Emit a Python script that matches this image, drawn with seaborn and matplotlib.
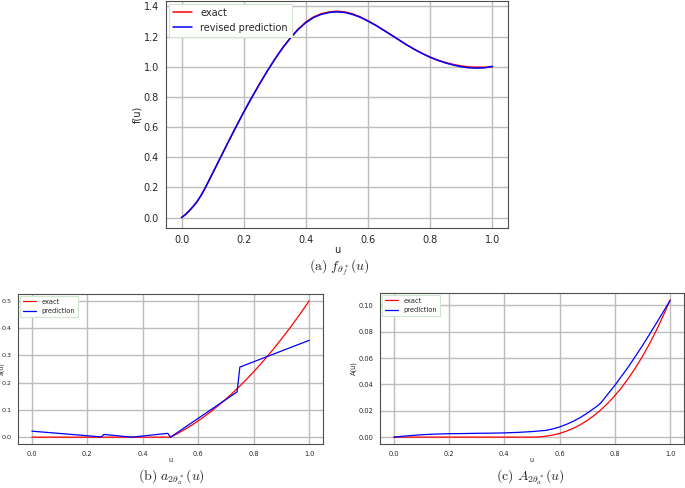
import matplotlib as mpl
import matplotlib.pyplot as plt
import seaborn as sns
import numpy as np
import pandas as pd

mpl.use('agg')

'''Exact vs predicted f, a and A curves'''

# f(u): exact and revised prediction
u_f = [0.000, 0.0125, 0.025, 0.0375, 0.050, 0.0625, 0.075, 0.100, 0.125, 0.150,
       0.175, 0.200, 0.225, 0.250, 0.275, 0.300, 0.325, 0.350, 0.375, 0.400,
       0.425, 0.450, 0.475, 0.500, 0.525, 0.550, 0.575, 0.600, 0.625, 0.650,
       0.675, 0.700, 0.725, 0.750, 0.775, 0.800, 0.825, 0.850, 0.875, 0.900,
       0.925, 0.950, 0.975, 1.000]
f_exact = [0.000, 0.020, 0.045, 0.074, 0.106, 0.146, 0.192, 0.294, 0.397, 0.500,
           0.601, 0.699, 0.793, 0.883, 0.969, 1.050, 1.125, 1.192, 1.250, 1.297,
           1.331, 1.352, 1.364, 1.368, 1.364, 1.351, 1.331, 1.305, 1.276, 1.244,
           1.211, 1.178, 1.145, 1.115, 1.088, 1.064, 1.044, 1.028, 1.015, 1.005,
           0.999, 0.997, 0.997, 1.000]
f_pred = [0.000, 0.020, 0.045, 0.074, 0.106, 0.146, 0.192, 0.294, 0.397, 0.500,
          0.601, 0.699, 0.793, 0.883, 0.969, 1.050, 1.125, 1.190, 1.247, 1.293,
          1.327, 1.348, 1.360, 1.364, 1.360, 1.347, 1.328, 1.302, 1.274, 1.242,
          1.210, 1.177, 1.144, 1.114, 1.087, 1.063, 1.042, 1.025, 1.011, 1.000,
          0.993, 0.991, 0.993, 1.003]

# a(u): exact and prediction
u_a_exact = [0.0, 0.5, 0.525, 0.55, 0.575, 0.6, 0.625, 0.65, 0.675, 0.7, 0.725,
             0.75, 0.775, 0.8, 0.825, 0.85, 0.875, 0.9, 0.925, 0.95, 0.975, 1.0]
a_exact = [0.0, 0.0, 0.0131, 0.0275, 0.0431, 0.06, 0.0781, 0.0975, 0.1181, 0.14,
           0.1631, 0.1875, 0.2131, 0.24, 0.2681, 0.2975, 0.3281, 0.36, 0.3931,
           0.4275, 0.4631, 0.5]
u_a_pred = [0.0, 0.25, 0.26, 0.36, 0.49, 0.50, 0.74, 0.75, 1.0]
a_pred = [0.022, 0.001, 0.010, 0.000, 0.014, 0.000, 0.166, 0.257, 0.355]

# A(u): exact and prediction
u_A_exact = [0.0, 0.5, 0.525, 0.55, 0.575, 0.6, 0.625, 0.65, 0.675, 0.7, 0.725,
             0.75, 0.775, 0.8, 0.825, 0.85, 0.875, 0.9, 0.925, 0.95, 0.975, 1.0]
A_exact = [0.0, 0.0, 0.00016, 0.00067, 0.00155, 0.00283, 0.00456, 0.00675,
           0.00944, 0.01267, 0.01645, 0.02083, 0.02584, 0.0315, 0.03785,
           0.04492, 0.05273, 0.06133, 0.07075, 0.081, 0.09213, 0.10417]
u_A_pred = [0.0, 0.05, 0.1, 0.15, 0.2, 0.25, 0.3, 0.35, 0.4, 0.45, 0.5, 0.55,
            0.575, 0.6, 0.625, 0.65, 0.675, 0.7, 0.74, 0.75, 0.8, 0.85, 0.9,
            0.95, 1.0]
A_pred = [0.0, 0.0010, 0.0018, 0.0023, 0.0026, 0.0027, 0.0029, 0.0030, 0.0032,
          0.0036, 0.0042, 0.0051, 0.0062, 0.0077, 0.0097, 0.0121, 0.0149,
          0.0182, 0.0242, 0.0262, 0.0393, 0.0537, 0.0695, 0.0864, 0.1037]

sns.set_style('whitegrid', {'axes.edgecolor': '0.3', 'grid.color': '0.74',
                            'axes.linewidth': 1.3})
plt.rcParams['mathtext.fontset'] = 'cm'

fig = plt.figure(figsize=(6.85, 4.88), dpi=100)


def draw(ax, series, ylabel, fs, lw, ypad):
    # series: list of (x, y, color, label)
    for x, y, color, label in series:
        df = pd.DataFrame({'u': x, 'v': y})
        sns.lineplot(data=df, x='u', y='v', color=color, label=label,
                     linewidth=lw, sort=False, estimator=None, ax=ax)
    ax.set_xlabel('u', fontsize=fs, labelpad=0)
    ax.set_ylabel(ylabel, fontsize=fs, labelpad=ypad)
    ax.tick_params(axis='x', labelsize=fs, pad=1.5)
    ax.tick_params(axis='y', labelsize=fs, pad=1.5)
    ax.grid(True, linewidth=1.0)
    leg = ax.legend(loc='upper left', fontsize=fs, fancybox=False,
                    borderaxespad=0.3, framealpha=1.0)
    leg.get_frame().set_edgecolor('#cfe5cf')
    leg.get_frame().set_linewidth(0.8)


# (a) top
ax_f = fig.add_axes([0.2423, 0.533, 0.4993, 0.465])
draw(ax_f, [(u_f, f_exact, 'red', 'exact'),
            (u_f, f_pred, 'blue', 'revised prediction')], 'f(u)', 7, 1.1, 1)
ax_f.set_yticks(np.arange(0, 1.41, 0.2))

# (b) bottom left
ax_a = fig.add_axes([0.0263, 0.0902, 0.4453, 0.3074])
draw(ax_a, [(u_a_exact, a_exact, 'red', 'exact'),
            (u_a_pred, a_pred, 'blue', 'prediction')], 'a(u)', 4.8, 0.9, 1)
ax_a.tick_params(axis='y', labelsize=4.6, pad=1)
ax_a.set_ylabel('a(u)', fontsize=4.6)
ax_a.yaxis.set_label_coords(-0.044, 0.5)

# (c) bottom right
ax_A = fig.add_axes([0.5547, 0.0902, 0.4438, 0.3094])
draw(ax_A, [(u_A_exact, A_exact, 'red', 'exact'),
            (u_A_pred, A_pred, 'blue', 'prediction')], 'A(u)', 4.8, 0.9, 1)

# Captions
fig.text(0.496, 0.451, r'$\mathrm{(a)}\ f_{\theta_f^*}(u)$', ha='center',
         va='center', fontsize=10)
fig.text(0.25, 0.022, r'$\mathrm{(b)}\ a_{2\theta_a^*}(u)$', ha='center',
         va='center', fontsize=10)
fig.text(0.774, 0.022, r'$\mathrm{(c)}\ A_{2\theta_a^*}(u)$', ha='center',
         va='center', fontsize=10)

fig.savefig('out.png', format='png', dpi=100)
